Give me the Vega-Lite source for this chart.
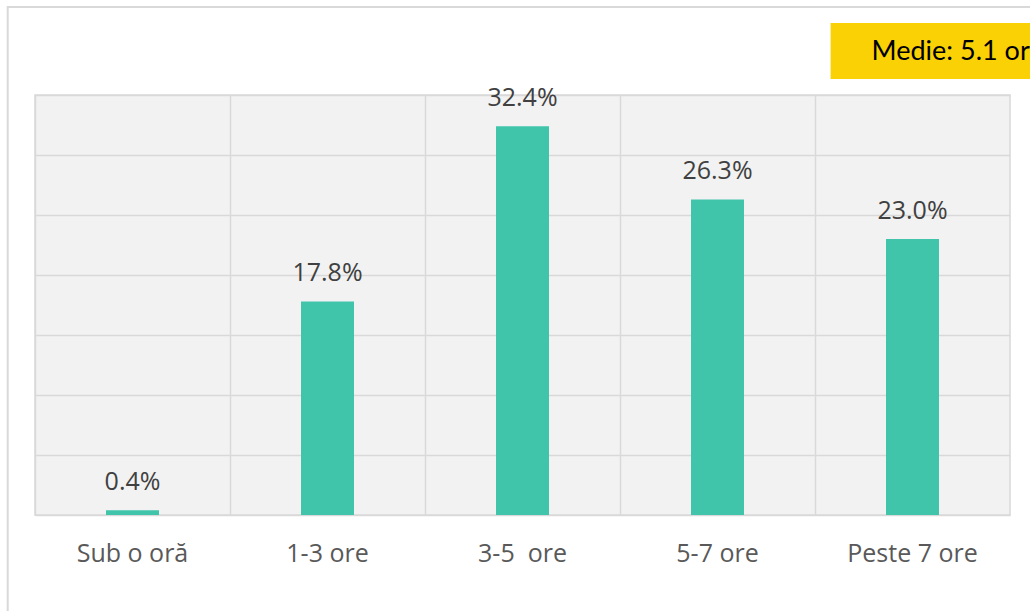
{
  "$schema": "https://vega.github.io/schema/vega-lite/v6.json",
  "autosize": "none",
  "width": 975,
  "height": 420,
  "padding": {"left": 35, "top": 95, "right": 20, "bottom": 96},
  "background": "white",
  "config": {
    "view": {"fill": "#F2F2F2", "stroke": "#D9D9D9", "strokeWidth": 1.5},
    "font": "Open Sans"
  },
  "datasets": {
    "bars": [
      {"cat": "Sub o oră", "pct": 0.4, "label": "0.4%"},
      {"cat": "1-3 ore", "pct": 17.8, "label": "17.8%"},
      {"cat": "3-5  ore", "pct": 32.4, "label": "32.4%"},
      {"cat": "5-7 ore", "pct": 26.3, "label": "26.3%"},
      {"cat": "Peste 7 ore", "pct": 23.0, "label": "23.0%"}
    ],
    "note": [{"text": "Medie: 5.1 ore"}]
  },
  "layer": [
    {
      "data": {"name": "bars"},
      "mark": {"type": "bar", "width": 53, "color": "#40C4AA"},
      "encoding": {
        "x": {
          "field": "cat", "type": "nominal", "sort": null,
          "scale": {"paddingInner": 0, "paddingOuter": 0},
          "axis": {
            "title": null, "domain": false, "ticks": false, "grid": true,
            "bandPosition": 0, "gridColor": "#D9D9D9", "gridWidth": 1.5,
            "labelAngle": 0, "labelFontSize": 25, "labelColor": "#595959",
            "labelPadding": 26, "labelFont": "Open Sans",
            "labelExpr": "replace(datum.label, '  ', '\u00a0 ')"
          }
        },
        "y": {
          "field": "pct", "type": "quantitative",
          "scale": {"domain": [0, 35], "nice": false},
          "axis": {
            "title": null, "labels": false, "ticks": false, "domain": false,
            "values": [0, 5, 10, 15, 20, 25, 30, 35],
            "gridColor": "#D9D9D9", "gridWidth": 1.5
          }
        }
      }
    },
    {
      "data": {"name": "bars"},
      "mark": {"type": "text", "fontSize": 25, "color": "#404040", "baseline": "middle", "dy": -28, "font": "Open Sans"},
      "encoding": {
        "x": {"field": "cat", "type": "nominal", "sort": null},
        "y": {"field": "pct", "type": "quantitative"},
        "text": {"field": "label"}
      }
    },
    {
      "data": {"name": "note"},
      "mark": {"type": "rect", "fill": null, "stroke": "#D9D9D9", "strokeWidth": 2, "clip": false},
      "encoding": {
        "x": {"datum": "Sub o oră", "bandPosition": -0.14},
        "x2": {"datum": "Peste 7 ore", "bandPosition": 1.3},
        "y": {"datum": 42.33},
        "y2": {"datum": -12}
      }
    },
    {
      "data": {"name": "note"},
      "mark": {"type": "rect", "color": "#F9D105", "clip": false},
      "encoding": {
        "x": {"datum": "Peste 7 ore", "bandPosition": 0.08},
        "x2": {"datum": "Peste 7 ore", "bandPosition": 1.3},
        "y": {"datum": 41},
        "y2": {"datum": 36.33}
      }
    },
    {
      "data": {"name": "note"},
      "mark": {"type": "text", "fontSize": 27, "color": "#000000", "align": "left", "baseline": "middle", "font": "Lato"},
      "encoding": {
        "x": {"datum": "Peste 7 ore", "bandPosition": 0.29},
        "y": {"datum": 38.6},
        "text": {"field": "text"}
      }
    }
  ]
}
